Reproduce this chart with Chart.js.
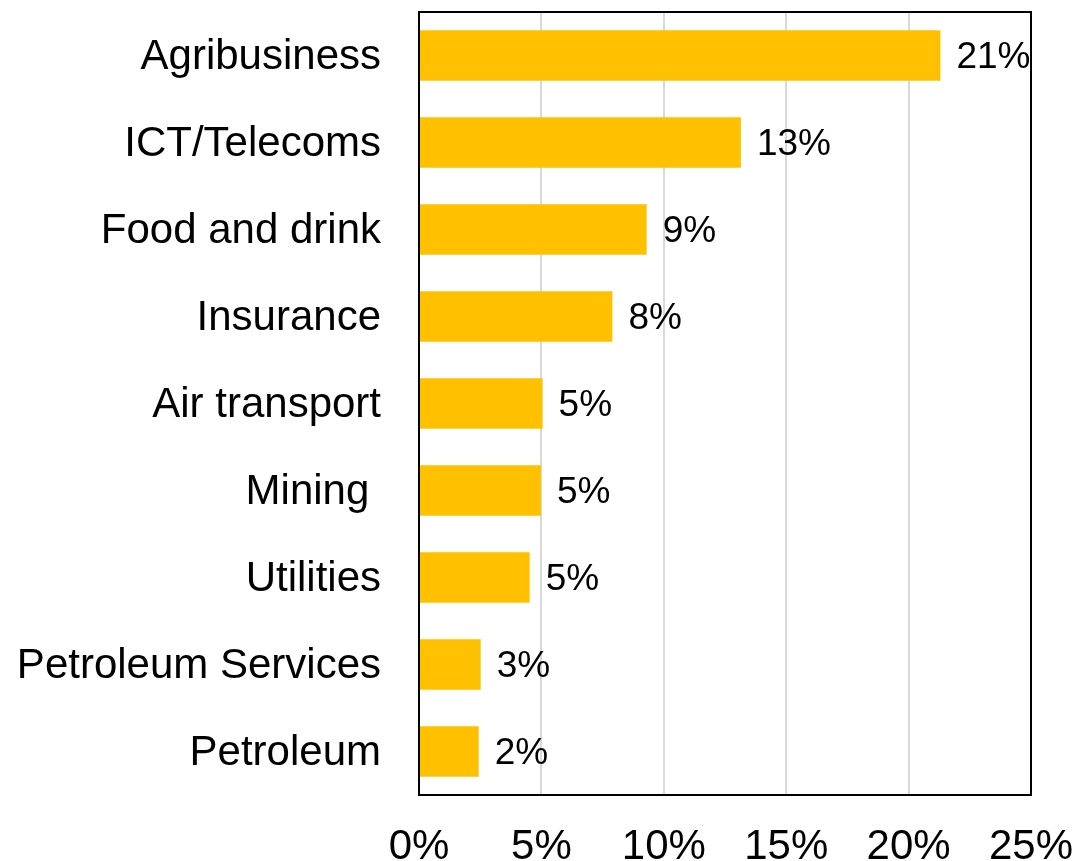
<!DOCTYPE html>
<html>
<head>
<meta charset="utf-8">
<script src="https://cdn.jsdelivr.net/npm/chart.js@4"></script>
<style>
  html, body { margin: 0; padding: 0; background: #fff; }
  #wrap { width: 1077px; height: 861px; }
</style>
</head>
<body>
<div id="wrap"><canvas id="myChart"></canvas></div>
<script>
var sectors = ['Agribusiness', 'ICT/Telecoms', 'Food and drink', 'Insurance', 'Air transport', 'Mining ', 'Utilities', 'Petroleum Services', 'Petroleum'];
var shares = [21.3, 13.15, 9.3, 7.9, 5.05, 4.98, 4.52, 2.52, 2.44];
var tickValues = [0, 5, 10, 15, 20, 25];

var FONT = "'Liberation Sans', Arial, sans-serif";

// box round the plot area + value labels at bar ends
var extras = {
    id: 'extras',
    afterDatasetsDraw: function(chart) {
        var c = chart.ctx;
        var meta = chart.getDatasetMeta(0);
        c.save();
        c.font = '37px ' + FONT;
        c.fillStyle = '#000';
        c.textAlign = 'left';
        c.textBaseline = 'middle';
        meta.data.forEach(function(bar, i) {
            c.fillText(Math.round(shares[i]) + '%', bar.x + 16, bar.y + 2);
        });
        var a = chart.chartArea;
        c.strokeStyle = '#000';
        c.lineWidth = 2;
        c.strokeRect(a.left, a.top, a.right - a.left, a.bottom - a.top);
        c.restore();
    }
};

var ctx = document.getElementById('myChart').getContext('2d');
var myChart = new Chart(ctx, {
    type: 'bar',
    data: {
        labels: sectors,
        datasets: [{
            data: shares,
            backgroundColor: '#FFC000',
            borderWidth: 0,
            barPercentage: 0.58,
            categoryPercentage: 1
        }]
    },
    options: {
        indexAxis: 'y',
        responsive: true,
        maintainAspectRatio: false,
        animation: false,
        layout: { padding: { top: 12, right: 46, left: 0, bottom: 0 } },
        plugins: {
            legend: { display: false },
            tooltip: { enabled: false }
        },
        scales: {
            x: {
                min: 0,
                max: 25,
                afterBuildTicks: function(axis) {
                    axis.ticks = tickValues.map(function(v) { return { value: v }; });
                },
                afterFit: function(axis) {
                    axis.height = 66;
                    axis.paddingLeft = 0;
                    axis.paddingRight = 0;
                },
                grid: { color: '#d9d9d9', lineWidth: 2, drawTicks: false },
                border: { display: false },
                ticks: {
                    padding: 27,
                    color: '#000',
                    maxRotation: 0,
                    font: { family: FONT, size: 42 },
                    callback: function(v) { return v + '%'; }
                }
            },
            y: {
                afterFit: function(axis) {
                    axis.width = 419;
                    axis.paddingTop = 0;
                    axis.paddingBottom = 0;
                },
                grid: { display: false, drawTicks: false },
                border: { display: false },
                ticks: {
                    padding: 38,
                    labelOffset: 2,
                    color: '#000',
                    font: { family: FONT, size: 42 }
                }
            }
        }
    },
    plugins: [extras]
});
</script>
</body>
</html>
